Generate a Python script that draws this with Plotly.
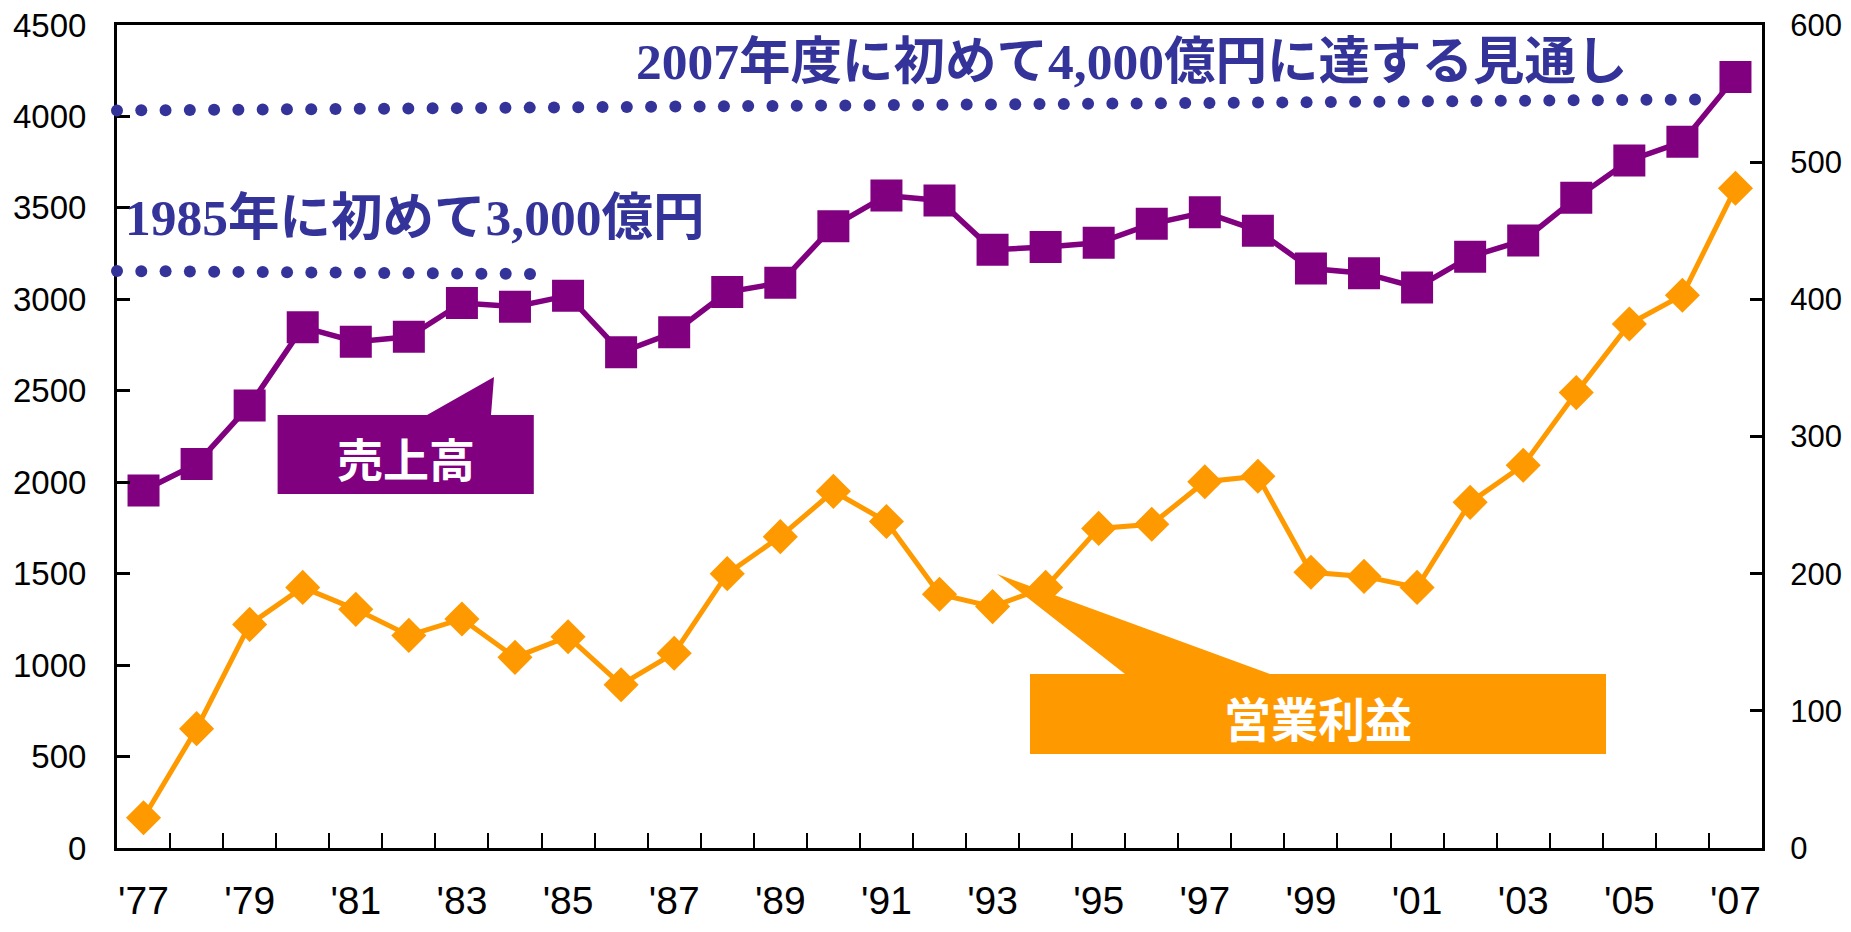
import numpy as np
import plotly.graph_objects as go

# ---------------- data ----------------
years = ["'77", "'78", "'79", "'80", "'81", "'82", "'83", "'84", "'85", "'86",
         "'87", "'88", "'89", "'90", "'91", "'92", "'93", "'94", "'95", "'96",
         "'97", "'98", "'99", "'00", "'01", "'02", "'03", "'04", "'05", "'06", "'07"]
sales = [1955, 2100, 2420, 2848, 2768, 2795, 2980, 2960, 3020, 2710,
         2820, 3040, 3090, 3400, 3568, 3541, 3271, 3286, 3309, 3413,
         3476, 3375, 3168, 3143, 3065, 3233, 3322, 3555, 3759, 3861, 4215]
profit = [22, 87, 163, 190, 174, 155, 167, 139, 154, 119,
          142, 200, 227, 260, 238, 185, 176, 190, 233, 236,
          267, 271, 201, 198, 190, 252, 279, 332, 382, 403, 481]
left_ticks = [0, 500, 1000, 1500, 2000, 2500, 3000, 3500, 4000, 4500]
right_ticks = [0, 100, 200, 300, 400, 500, 600]
tick_text = [y if i % 2 == 0 else "" for i, y in enumerate(years)]

PURPLE = "#800080"
ORANGE = "#FF9900"
NAVY = "#333399"

# ---------------- layout geometry (screen pixels) ----------------
SCREEN_W, SCREEN_H = 1851, 932
OFF = 8                      # default body margin of the page
W, H = SCREEN_W - 2 * OFF, SCREEN_H - 2 * OFF   # page must not overflow
L, R, T, B = 117, 1762, 25, 848   # plot area on screen
PW, PH = R - L, B - T


def px(x):
    return (x - L) / PW


def py(y):
    return (B - y) / PH


fig = go.Figure()
fig.add_trace(go.Scatter(
    x=years, y=sales, mode="lines+markers", name="売上高",
    line=dict(color=PURPLE, width=5.5),
    marker=dict(symbol="square", size=32, color=PURPLE),
    yaxis="y", cliponaxis=False))
fig.add_trace(go.Scatter(
    x=years, y=profit, mode="lines+markers", name="営業利益",
    line=dict(color=ORANGE, width=5),
    marker=dict(symbol="diamond", size=27, color=ORANGE),
    yaxis="y2", cliponaxis=False))

shapes = []
# dotted reference lines (round dots)
for (x0, y0, x1, y1, n) in [(117, 110.5, 1695, 99.5, 66), (117, 271, 530, 274, 18)]:
    for xx, yy in zip(np.linspace(x0, x1, n), np.linspace(y0, y1, n)):
        shapes.append(dict(type="circle", xref="paper", yref="paper",
                           xsizemode="pixel", ysizemode="pixel",
                           xanchor=px(xx), yanchor=py(yy),
                           x0=-6, x1=6, y0=-6, y1=6,
                           fillcolor=NAVY, line=dict(width=0), layer="above"))


def path(points):
    return "M " + " L ".join(f"{px(a):.5f},{py(b):.5f}" for a, b in points) + " Z"


shapes.append(dict(type="path", xref="paper", yref="paper",
                   path=path([(277.6, 494), (277.6, 415), (427, 415), (494, 377),
                              (491, 415), (533.8, 415), (533.8, 494)]),
                   fillcolor=PURPLE, line=dict(width=0), layer="above"))
shapes.append(dict(type="path", xref="paper", yref="paper",
                   path=path([(1030, 754), (1030, 674), (1125, 674), (997, 574),
                              (1270, 674), (1606, 674), (1606, 754)]),
                   fillcolor=ORANGE, line=dict(width=0), layer="above"))

title_font = dict(family="Liberation Serif, 'Noto Sans CJK JP'", size=51.5,
                  color=NAVY, weight="bold")
annotations = [
    dict(text="2007年度に初めて4,000億円に達する見通し", xref="paper", yref="paper",
         x=px(634), y=py(61), xanchor="left", yanchor="middle",
         showarrow=False, font=title_font),
    dict(text="1985年に初めて3,000億円", xref="paper", yref="paper",
         x=px(123), y=py(217), xanchor="left", yanchor="middle",
         showarrow=False, font=title_font),
    dict(text="売上高", xref="paper", yref="paper",
         x=px(406), y=py(457), xanchor="center", yanchor="middle",
         showarrow=False,
         font=dict(family="'Noto Sans CJK JP'", size=46, color="white", weight="bold")),
    dict(text="営業利益", xref="paper", yref="paper",
         x=px(1318), y=py(716), xanchor="center", yanchor="middle",
         showarrow=False,
         font=dict(family="'Noto Sans CJK JP'", size=47, color="white", weight="bold")),
]

fig.update_layout(
    width=W, height=H,
    margin=dict(l=L - OFF, r=W - (R - OFF), t=T - OFF, b=H - (B - OFF), pad=0),
    paper_bgcolor="white", plot_bgcolor="white",
    showlegend=False,
    shapes=shapes, annotations=annotations,
    xaxis=dict(type="category", range=[-0.5, len(years) - 0.5],
               tickmode="array", tickvals=years, ticktext=tick_text,
               tickangle=0, automargin=False,
               tickson="boundaries", ticks="inside", ticklen=15, tickwidth=2,
               tickcolor="black",
               showline=True, linecolor="black", linewidth=3, mirror=True,
               showgrid=False, zeroline=False,
               tickfont=dict(family="Liberation Sans, Arial", size=39, color="black"),
               ticklabelstandoff=16, ticklabeloverflow="allow"),
    yaxis=dict(range=[0, 4500], tickmode="array", tickvals=left_ticks,
               ticks="inside", ticklen=13, tickwidth=2.5, tickcolor="black",
               showline=True, linecolor="black", linewidth=3, automargin=False,
               showgrid=False, zeroline=False,
               tickfont=dict(family="Liberation Sans, Arial", size=33, color="black"),
               ticklabelstandoff=21, ticklabeloverflow="allow"),
    yaxis2=dict(range=[0, 600], tickmode="array", tickvals=right_ticks,
                overlaying="y", side="right", automargin=False,
                ticks="inside", ticklen=12, tickwidth=2.5, tickcolor="black",
                showline=True, linecolor="black", linewidth=3,
                showgrid=False, zeroline=False,
                tickfont=dict(family="Liberation Sans, Arial", size=31, color="black"),
                ticklabelstandoff=19, ticklabeloverflow="allow"),
)

fig.write_html("out.html")
